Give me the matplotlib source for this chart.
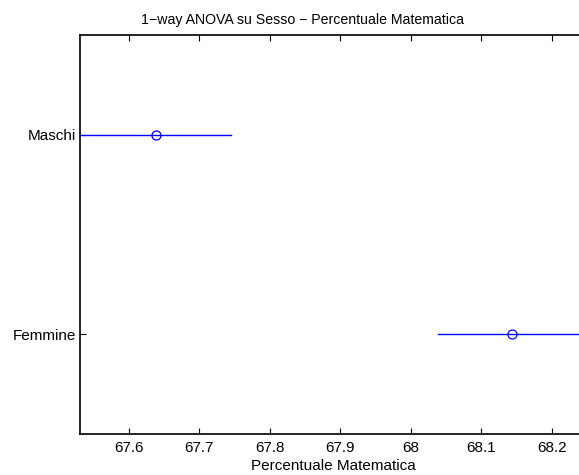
import matplotlib
matplotlib.use("Agg")
import matplotlib.pyplot as plt

groups = ["Femmine", "Maschi"]
means = [68.144, 67.639]
lower = [68.038, 67.533]
upper = [68.250, 67.745]
xticks = [67.6, 67.7, 67.8, 67.9, 68.0, 68.1, 68.2]
xticklabels = ["67.6", "67.7", "67.8", "67.9", "68", "68.1", "68.2"]

plt.rcParams['font.family'] = ['Liberation Sans', 'DejaVu Sans']

fig = plt.figure(figsize=(5.79, 4.75), dpi=100)
ax = fig.add_axes([80/579, 41/475, 507/579, 399/475])

ypos = list(range(1, len(groups) + 1))
for y, m, lo, hi in zip(ypos, means, lower, upper):
    ax.plot([lo, hi], [y, y], color='#0000ff', lw=1.0)
    ax.plot([m], [y], marker='o', mfc='none', mec='#0000ff', ms=6.5, mew=0.9, ls='none')

ax.set_xlim(67.531, 68.250)
ax.set_ylim(0.5, 2.5)
ax.set_yticks(ypos)
ax.set_yticklabels(groups, fontsize=11)
ax.set_xticks(xticks)
ax.set_xticklabels(xticklabels, fontsize=11)
ax.tick_params(direction='in', length=4, width=0.8, top=True, right=True)
ax.tick_params(axis='x', pad=5)
ax.tick_params(axis='y', pad=3)
for s in ax.spines.values():
    s.set_linewidth(1.2)
ax.set_xlabel("Percentuale Matematica", fontsize=11, labelpad=3)
ax.set_title("1\u2212way ANOVA su Sesso \u2212 Percentuale Matematica", fontsize=10.2,
             x=(302.5-80)/507, pad=8)

fig.savefig("out.png", dpi=100)
